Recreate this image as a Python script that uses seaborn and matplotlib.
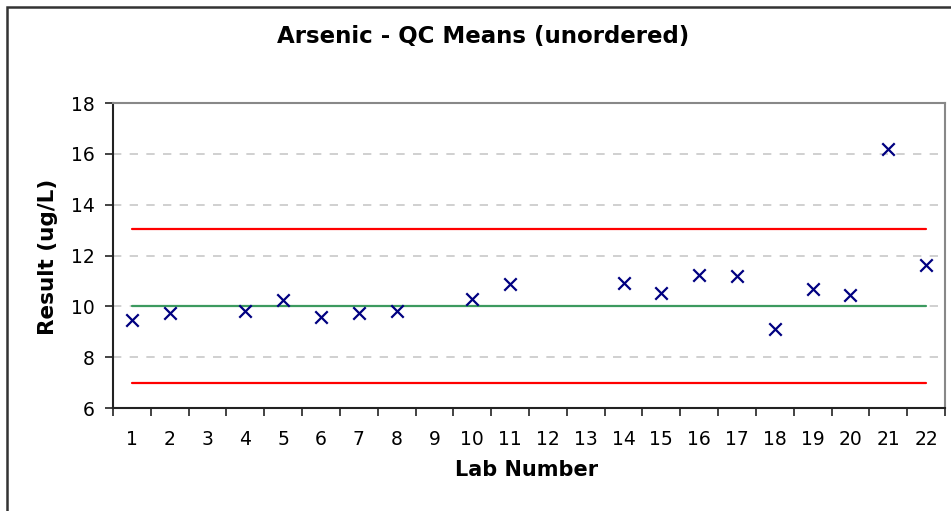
import matplotlib
matplotlib.use("Agg")
import matplotlib.pyplot as plt
import seaborn as sns
import pandas as pd
from matplotlib.patches import Rectangle

sns.set_style("white")
plt.rcParams['font.family'] = ['DejaVu Sans']
plt.rcParams['text.color'] = 'black'
plt.rcParams['xtick.color'] = 'black'
plt.rcParams['ytick.color'] = 'black'

# lab numbers shown on the category axis (some labs have no result)
lab_ticks = list(range(1, 23))
labs = [1, 2, 4, 5, 6, 7, 8, 10, 11, 14, 15, 16, 17, 18, 19, 20, 21, 22]
results = [9.45, 9.75, 9.83, 10.24, 9.6, 9.75, 9.83, 10.3, 10.86,
           10.93, 10.54, 11.24, 11.18, 9.12, 10.69, 10.46, 16.2, 11.62]

# control limits, drawn from the first to the last lab
limit_labs = [1, 22]
upper_limit = [13.05, 13.05]
mean_line = [10.0, 10.0]
lower_limit = [7.0, 7.0]
y_ticks = [6, 8, 10, 12, 14, 16, 18]

df = pd.DataFrame({"Lab": labs, "Result": results})
df_lim = pd.DataFrame({"Lab": limit_labs, "UCL": upper_limit,
                       "Mean": mean_line, "LCL": lower_limit})

fig = plt.figure(figsize=(9.51, 5.11), dpi=100)
ax = fig.add_axes([113/951, 1-408/511, (945-113)/951, (408-103)/511])

# dashed grid
for yv in y_ticks[1:-1]:
    ax.axhline(yv, color='#c8c8c8', lw=1.2, ls=(0, (5, 5)), zorder=0)

sns.lineplot(data=df_lim, x='Lab', y='UCL', color='#ff0000', lw=1.6, ax=ax)
sns.lineplot(data=df_lim, x='Lab', y='LCL', color='#ff0000', lw=1.6, ax=ax)
sns.lineplot(data=df_lim, x='Lab', y='Mean', color='#3c9a5f', lw=1.6, ax=ax)
sns.scatterplot(data=df, x='Lab', y='Result', marker='x', s=80,
                color='#000080', linewidth=1.6, ax=ax, zorder=5)

ax.set_xlim(0.5, 22.5)
ax.set_ylim(6, 18)
ax.set_yticks(y_ticks)
ax.set_xticks(lab_ticks)
ax.set_xticks([v + 0.5 for v in range(0, 23)], minor=True)
ax.tick_params(axis='x', which='major', length=0, labelsize=13.5, pad=16)
ax.tick_params(axis='x', which='minor', length=6, width=1.2, color='#222222',
               direction='out', bottom=True)
ax.tick_params(axis='y', length=6, width=1.2, color='#222222', direction='out',
               left=True, labelsize=13.5, pad=7)

for side in ['left', 'bottom']:
    ax.spines[side].set_color('#222222')
    ax.spines[side].set_linewidth(1.5)
for side in ['top', 'right']:
    ax.spines[side].set_color('#888888')
    ax.spines[side].set_linewidth(1.5)

ax.set_xlabel('')
ax.set_ylabel('')
fig.text(527/951, 1-470/511, 'Lab Number', ha='center', va='center',
         fontsize=15, fontweight='bold')
fig.text(48/951, 1-257/511, 'Result (ug/L)', ha='center', va='center',
         rotation=90, fontsize=15.5, fontweight='bold')
fig.text(483/951, 1-37/511, 'Arsenic - QC Means (unordered)', ha='center',
         va='center', fontsize=16.5, fontweight='bold')

# outer chart border
fig.patches.append(Rectangle((7/951, -0.05), 1.1, 1-7/511+0.05,
                             transform=fig.transFigure, fill=False,
                             edgecolor='#333333', lw=1.8))

fig.savefig('out.png', dpi=100)
